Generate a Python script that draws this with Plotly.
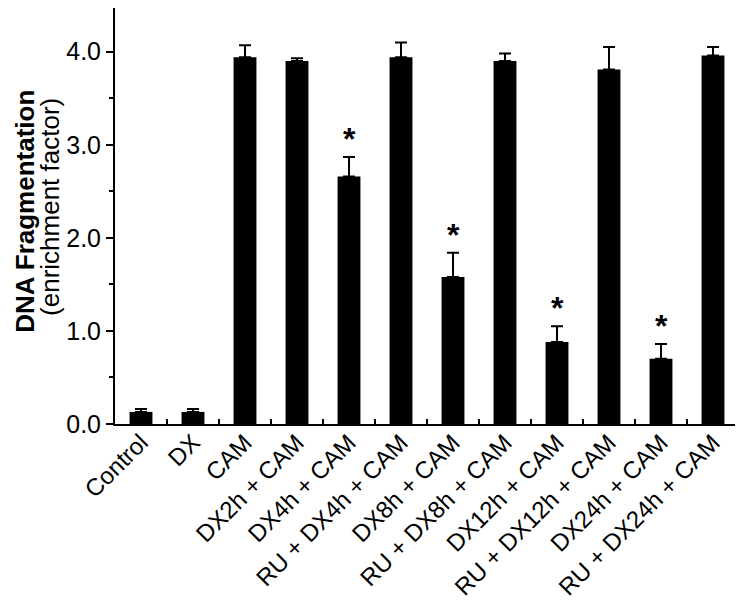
import plotly.graph_objects as go

categories = ['Control', 'DX', 'CAM', 'DX2h + CAM', 'DX4h + CAM', 'RU + DX4h + CAM',
              'DX8h + CAM', 'RU + DX8h + CAM', 'DX12h + CAM', 'RU + DX12h + CAM',
              'DX24h + CAM', 'RU + DX24h + CAM']
values = [0.13, 0.13, 3.94, 3.90, 2.66, 3.94, 1.58, 3.90, 0.88, 3.81, 0.70, 3.96]
errors = [0.03, 0.03, 0.13, 0.03, 0.21, 0.16, 0.26, 0.08, 0.17, 0.24, 0.16, 0.09]
significant = [False, False, False, False, True, False, True, False, True, False, True, False]

font_family = 'Liberation Sans, Arial, sans-serif'

fig = go.Figure()
fig.add_trace(go.Bar(
    x=categories, y=values,
    width=0.44,
    marker=dict(color='black', line=dict(width=0)),
    error_y=dict(type='data', symmetric=False, array=errors,
                 arrayminus=[0] * len(errors), color='black',
                 thickness=2, width=6),
    showlegend=False,
))

# asterisks above the significant bars
for cat, v, e, s in zip(categories, values, errors, significant):
    if s:
        fig.add_annotation(x=cat, y=v + e, text='<b>*</b>', showarrow=False,
                           yshift=18, font=dict(size=32, color='black', family=font_family))

# y axis title as two rotated lines (tighter spacing than a <br> title)
fig.add_annotation(text='<b>DNA Fragmentation</b>', xref='paper', yref='paper',
                   x=-0.1445, y=0.512, xanchor='center', yanchor='middle',
                   textangle=-90, showarrow=False,
                   font=dict(size=26, color='black', family=font_family))
fig.add_annotation(text='(enrichment factor)', xref='paper', yref='paper',
                   x=-0.104, y=0.522, xanchor='center', yanchor='middle',
                   textangle=-90, showarrow=False,
                   font=dict(size=26, color='black', family=font_family))

# the page body has an 8px default margin, so margins are shifted to compensate
fig.update_layout(
    width=743, height=612,
    margin=dict(l=107, r=12, t=0, b=196),
    plot_bgcolor='white', paper_bgcolor='white',
    font=dict(family=font_family, color='black'),
)
fig.update_xaxes(
    type='category', range=[-0.5, 11.5],
    showline=True, linecolor='black', linewidth=2,
    ticks='inside', tickson='boundaries', ticklen=5, tickwidth=1.5, tickcolor='black',
    tickangle=-45, tickfont=dict(size=24, color='black'),
    ticklabelstandoff=-7,
    showgrid=False, zeroline=False, automargin=False,
)
fig.update_yaxes(
    range=[0, 4.47],
    tickvals=[0, 1, 2, 3, 4], tickformat='.1f',
    ticks='outside', ticklen=7, tickwidth=1.5, tickcolor='black',
    minor=dict(tickvals=[0.5, 1.5, 2.5, 3.5], ticks='outside', ticklen=4,
               tickwidth=1.5, tickcolor='black', showgrid=False),
    showline=True, linecolor='black', linewidth=2,
    tickfont=dict(size=25, color='black'),
    showgrid=False, zeroline=False, automargin=False,
)

fig.write_html('out.html')
